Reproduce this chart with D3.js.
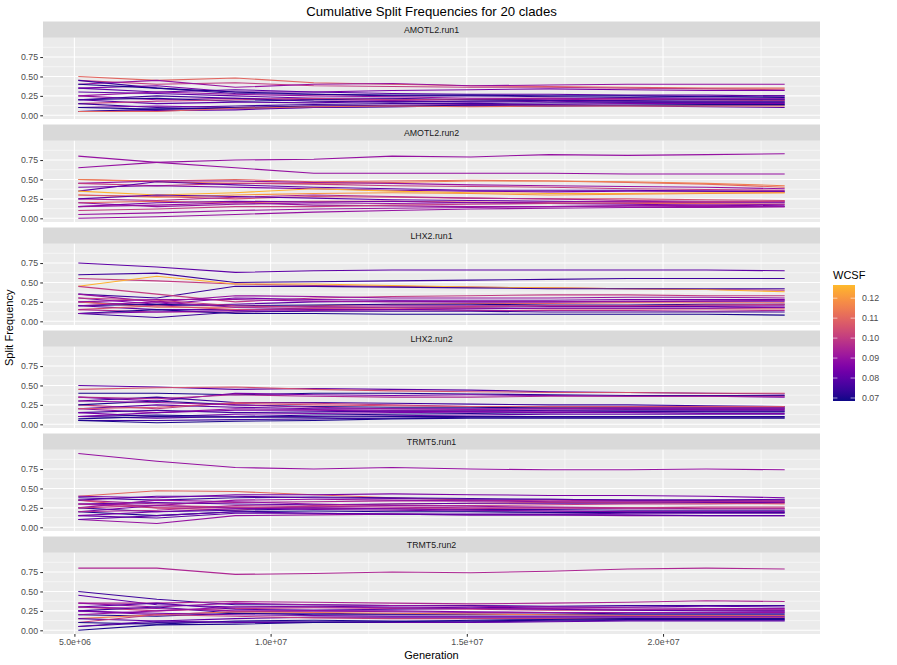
<!DOCTYPE html>
<html><head><meta charset="utf-8">
<script src="https://cdn.jsdelivr.net/npm/d3@7"></script>
<style>body{margin:0;background:#fff;} text{font-family:"Liberation Sans",Arial,sans-serif;}</style>
</head><body>
<svg id="chart" width="897" height="665"></svg>
<script>
const title = "Cumulative Split Frequencies for 20 clades";
const generations = [5100000, 7100000, 9100000, 11100000, 13100000, 15100000, 17100000, 19100000, 21100000, 23100000];
const runs = ["AMOTL2.run1", "AMOTL2.run2", "LHX2.run1", "LHX2.run2", "TRMT5.run1", "TRMT5.run2"];
const xTicks = [5e6, 1e7, 1.5e7, 2e7];
const xTickLabels = ["5.0e+06", "1.0e+07", "1.5e+07", "2.0e+07"];
const yTicks = [0, 0.25, 0.5, 0.75];
const yTickLabels = ["0.00", "0.25", "0.50", "0.75"];
const legendTicks = [0.07, 0.08, 0.09, 0.10, 0.11, 0.12];
const wcsfRange = [0.0685, 0.1266];

const amotl2Run1 = [
 [0.50,0.45,0.48,0.42,0.40,0.38,0.37,0.36,0.35,0.35],
 [0.45,0.40,0.42,0.38,0.37,0.36,0.36,0.35,0.34,0.33],
 [0.40,0.45,0.36,0.40,0.41,0.38,0.39,0.40,0.40,0.40],
 [0.45,0.35,0.28,0.27,0.25,0.25,0.24,0.23,0.24,0.25],
 [0.35,0.38,0.30,0.30,0.32,0.33,0.34,0.33,0.32,0.32],
 [0.30,0.28,0.25,0.22,0.22,0.20,0.21,0.22,0.22,0.22],
 [0.25,0.20,0.22,0.20,0.19,0.20,0.20,0.21,0.20,0.20],
 [0.20,0.22,0.18,0.20,0.21,0.20,0.19,0.18,0.18,0.18],
 [0.20,0.15,0.17,0.16,0.18,0.17,0.18,0.17,0.17,0.17],
 [0.15,0.18,0.20,0.22,0.20,0.21,0.22,0.21,0.20,0.19],
 [0.15,0.10,0.12,0.14,0.15,0.15,0.16,0.16,0.16,0.16],
 [0.10,0.12,0.10,0.12,0.13,0.14,0.14,0.15,0.15,0.15],
 [0.10,0.08,0.09,0.10,0.11,0.12,0.12,0.13,0.13,0.13],
 [0.05,0.08,0.10,0.12,0.12,0.13,0.13,0.13,0.14,0.14],
 [0.05,0.06,0.07,0.10,0.11,0.12,0.12,0.12,0.11,0.10],
 [0.05,0.05,0.09,0.11,0.12,0.11,0.12,0.12,0.12,0.12],
 [0.35,0.30,0.33,0.30,0.28,0.27,0.27,0.26,0.26,0.25],
 [0.40,0.35,0.30,0.27,0.26,0.26,0.25,0.25,0.24,0.23],
 [0.25,0.30,0.27,0.25,0.24,0.22,0.22,0.21,0.21,0.21],
 [0.20,0.25,0.22,0.18,0.17,0.18,0.19,0.19,0.20,0.20]
];
const amotl2Run1Wcsf = [0.11,0.10,0.09,0.075,0.085,0.08,0.09,0.07,0.08,0.10,0.075,0.085,0.07,0.07,0.08,0.11,0.08,0.07,0.09,0.075];

const amotl2Run2 = [
 [0.80,0.72,0.65,0.58,0.58,0.58,0.58,0.57,0.57,0.57],
 [0.65,0.72,0.75,0.76,0.80,0.79,0.82,0.81,0.82,0.83],
 [0.50,0.48,0.50,0.47,0.48,0.49,0.48,0.46,0.44,0.40],
 [0.50,0.47,0.45,0.45,0.46,0.48,0.48,0.47,0.45,0.42],
 [0.45,0.48,0.48,0.46,0.45,0.43,0.42,0.41,0.40,0.38],
 [0.45,0.42,0.45,0.44,0.42,0.41,0.40,0.38,0.37,0.36],
 [0.40,0.42,0.40,0.38,0.36,0.35,0.34,0.35,0.35,0.35],
 [0.35,0.47,0.43,0.40,0.38,0.36,0.36,0.36,0.35,0.34],
 [0.35,0.30,0.33,0.38,0.35,0.33,0.32,0.32,0.33,0.33],
 [0.30,0.27,0.30,0.32,0.33,0.32,0.30,0.31,0.32,0.33],
 [0.30,0.28,0.25,0.28,0.27,0.26,0.25,0.25,0.24,0.23],
 [0.25,0.23,0.27,0.30,0.28,0.26,0.25,0.23,0.22,0.22],
 [0.25,0.30,0.28,0.26,0.24,0.23,0.22,0.21,0.20,0.20],
 [0.20,0.22,0.20,0.22,0.22,0.21,0.20,0.19,0.19,0.18],
 [0.20,0.15,0.18,0.20,0.19,0.20,0.21,0.22,0.21,0.21],
 [0.15,0.20,0.22,0.21,0.22,0.20,0.19,0.18,0.17,0.16],
 [0.15,0.17,0.20,0.17,0.16,0.15,0.15,0.16,0.15,0.15],
 [0.10,0.12,0.15,0.15,0.17,0.18,0.19,0.20,0.21,0.22],
 [0.05,0.07,0.10,0.12,0.13,0.14,0.15,0.16,0.17,0.18],
 [0.00,0.02,0.05,0.08,0.10,0.12,0.13,0.14,0.14,0.15]
];
const amotl2Run2Wcsf = [0.09,0.09,0.11,0.115,0.09,0.10,0.085,0.08,0.125,0.12,0.105,0.095,0.08,0.11,0.09,0.085,0.09,0.10,0.09,0.09];

const lhx2Run1 = [
 [0.75,0.70,0.63,0.65,0.66,0.66,0.66,0.66,0.66,0.65],
 [0.60,0.62,0.50,0.51,0.52,0.53,0.54,0.55,0.55,0.55],
 [0.55,0.52,0.48,0.46,0.45,0.44,0.43,0.42,0.41,0.40],
 [0.45,0.58,0.48,0.48,0.46,0.44,0.43,0.42,0.41,0.38],
 [0.35,0.30,0.45,0.45,0.44,0.43,0.42,0.42,0.42,0.42],
 [0.45,0.35,0.25,0.30,0.32,0.33,0.34,0.34,0.33,0.33],
 [0.35,0.25,0.33,0.32,0.30,0.30,0.30,0.31,0.31,0.30],
 [0.30,0.22,0.30,0.28,0.27,0.27,0.27,0.28,0.28,0.28],
 [0.25,0.20,0.22,0.25,0.26,0.25,0.25,0.25,0.26,0.26],
 [0.25,0.18,0.18,0.20,0.22,0.23,0.23,0.24,0.24,0.24],
 [0.20,0.22,0.20,0.21,0.22,0.22,0.21,0.21,0.22,0.22],
 [0.20,0.25,0.18,0.19,0.20,0.20,0.20,0.20,0.20,0.20],
 [0.20,0.15,0.15,0.17,0.18,0.18,0.19,0.19,0.19,0.18],
 [0.15,0.20,0.15,0.16,0.16,0.17,0.16,0.16,0.16,0.16],
 [0.15,0.12,0.12,0.14,0.15,0.14,0.14,0.14,0.13,0.14],
 [0.10,0.05,0.12,0.13,0.13,0.13,0.12,0.12,0.12,0.12],
 [0.10,0.15,0.10,0.10,0.09,0.09,0.09,0.09,0.09,0.08],
 [0.30,0.27,0.20,0.18,0.18,0.19,0.20,0.20,0.21,0.22],
 [0.25,0.28,0.28,0.26,0.25,0.25,0.25,0.26,0.26,0.27],
 [0.10,0.12,0.14,0.15,0.15,0.16,0.17,0.17,0.17,0.18]
];
const lhx2Run1Wcsf = [0.08,0.075,0.10,0.125,0.075,0.10,0.09,0.085,0.08,0.11,0.07,0.09,0.08,0.105,0.095,0.075,0.07,0.10,0.09,0.085];

const lhx2Run2 = [
 [0.50,0.48,0.45,0.46,0.45,0.44,0.42,0.41,0.40,0.39],
 [0.45,0.47,0.48,0.45,0.43,0.42,0.41,0.41,0.40,0.40],
 [0.40,0.40,0.38,0.40,0.40,0.39,0.38,0.37,0.37,0.37],
 [0.35,0.30,0.40,0.38,0.37,0.38,0.37,0.36,0.36,0.35],
 [0.30,0.35,0.28,0.28,0.27,0.26,0.25,0.25,0.24,0.23],
 [0.25,0.20,0.28,0.27,0.25,0.23,0.22,0.22,0.22,0.22],
 [0.25,0.30,0.25,0.23,0.22,0.22,0.21,0.21,0.21,0.21],
 [0.20,0.25,0.22,0.20,0.20,0.20,0.20,0.20,0.20,0.20],
 [0.20,0.15,0.20,0.19,0.18,0.18,0.18,0.19,0.19,0.19],
 [0.15,0.18,0.15,0.16,0.17,0.17,0.18,0.18,0.18,0.18],
 [0.15,0.10,0.13,0.14,0.15,0.16,0.16,0.16,0.17,0.17],
 [0.10,0.12,0.10,0.12,0.13,0.14,0.15,0.16,0.16,0.16],
 [0.10,0.08,0.10,0.10,0.11,0.12,0.13,0.13,0.13,0.13],
 [0.07,0.10,0.09,0.09,0.10,0.10,0.10,0.10,0.10,0.10],
 [0.05,0.05,0.06,0.07,0.08,0.09,0.09,0.09,0.09,0.09],
 [0.05,0.02,0.04,0.05,0.07,0.08,0.08,0.08,0.08,0.08],
 [0.20,0.22,0.27,0.25,0.24,0.23,0.23,0.23,0.23,0.23],
 [0.30,0.28,0.25,0.22,0.20,0.19,0.20,0.21,0.21,0.21],
 [0.35,0.33,0.38,0.36,0.35,0.35,0.36,0.36,0.36,0.36],
 [0.10,0.15,0.18,0.18,0.17,0.16,0.15,0.15,0.14,0.14]
];
const lhx2Run2Wcsf = [0.08,0.105,0.07,0.085,0.075,0.10,0.07,0.08,0.09,0.075,0.085,0.07,0.08,0.07,0.075,0.07,0.105,0.09,0.095,0.085];

const trmt5Run1 = [
 [0.95,0.85,0.77,0.75,0.77,0.75,0.74,0.74,0.75,0.74],
 [0.40,0.47,0.46,0.42,0.38,0.35,0.33,0.32,0.31,0.30],
 [0.40,0.38,0.42,0.42,0.43,0.42,0.41,0.41,0.40,0.38],
 [0.38,0.35,0.38,0.39,0.38,0.37,0.36,0.35,0.35,0.35],
 [0.35,0.30,0.32,0.33,0.34,0.34,0.35,0.34,0.34,0.34],
 [0.35,0.25,0.22,0.28,0.30,0.31,0.32,0.32,0.33,0.33],
 [0.30,0.32,0.30,0.29,0.30,0.31,0.31,0.31,0.32,0.32],
 [0.30,0.25,0.25,0.27,0.28,0.28,0.29,0.30,0.30,0.31],
 [0.25,0.35,0.33,0.30,0.28,0.27,0.26,0.25,0.24,0.24],
 [0.25,0.20,0.22,0.24,0.24,0.23,0.23,0.22,0.22,0.22],
 [0.20,0.28,0.25,0.23,0.22,0.21,0.21,0.20,0.20,0.20],
 [0.20,0.15,0.20,0.21,0.20,0.20,0.19,0.19,0.19,0.19],
 [0.15,0.12,0.18,0.18,0.17,0.17,0.17,0.18,0.18,0.18],
 [0.10,0.05,0.15,0.16,0.17,0.16,0.16,0.15,0.15,0.15],
 [0.10,0.15,0.20,0.18,0.17,0.16,0.16,0.16,0.15,0.15],
 [0.25,0.28,0.26,0.25,0.24,0.24,0.25,0.25,0.26,0.26],
 [0.30,0.28,0.35,0.36,0.35,0.34,0.33,0.33,0.33,0.33],
 [0.20,0.22,0.28,0.27,0.26,0.25,0.25,0.24,0.24,0.24],
 [0.35,0.40,0.40,0.38,0.37,0.36,0.36,0.35,0.35,0.36],
 [0.15,0.20,0.24,0.25,0.24,0.22,0.21,0.20,0.20,0.20]
];
const trmt5Run1Wcsf = [0.09,0.11,0.085,0.075,0.095,0.105,0.08,0.10,0.09,0.075,0.085,0.07,0.08,0.09,0.08,0.10,0.09,0.095,0.08,0.085];

const trmt5Run2 = [
 [0.80,0.80,0.72,0.73,0.75,0.74,0.76,0.79,0.80,0.79],
 [0.50,0.40,0.33,0.33,0.32,0.32,0.31,0.32,0.32,0.32],
 [0.45,0.33,0.30,0.31,0.30,0.29,0.30,0.30,0.31,0.30],
 [0.35,0.35,0.37,0.36,0.35,0.34,0.35,0.36,0.38,0.37],
 [0.35,0.30,0.35,0.33,0.32,0.31,0.30,0.29,0.28,0.28],
 [0.30,0.25,0.28,0.29,0.28,0.27,0.26,0.26,0.26,0.26],
 [0.30,0.35,0.27,0.26,0.27,0.28,0.27,0.26,0.25,0.25],
 [0.25,0.20,0.24,0.25,0.25,0.24,0.23,0.23,0.23,0.24],
 [0.25,0.30,0.22,0.22,0.21,0.21,0.21,0.22,0.22,0.22],
 [0.20,0.18,0.22,0.20,0.20,0.20,0.20,0.20,0.20,0.20],
 [0.15,0.20,0.24,0.23,0.22,0.21,0.20,0.19,0.19,0.19],
 [0.15,0.12,0.15,0.17,0.17,0.17,0.17,0.17,0.17,0.17],
 [0.10,0.20,0.18,0.16,0.15,0.15,0.15,0.15,0.16,0.16],
 [0.10,0.08,0.12,0.13,0.12,0.12,0.13,0.14,0.14,0.14],
 [0.05,0.10,0.11,0.11,0.11,0.11,0.12,0.13,0.13,0.13],
 [0.05,0.12,0.10,0.10,0.10,0.10,0.11,0.12,0.12,0.12],
 [0.00,0.07,0.08,0.10,0.11,0.13,0.14,0.15,0.15,0.15],
 [0.20,0.25,0.30,0.30,0.29,0.28,0.28,0.27,0.27,0.27],
 [0.25,0.22,0.20,0.19,0.18,0.18,0.18,0.18,0.18,0.18],
 [0.30,0.28,0.25,0.25,0.24,0.23,0.23,0.23,0.23,0.23]
];
const trmt5Run2Wcsf = [0.095,0.075,0.08,0.095,0.09,0.10,0.08,0.085,0.075,0.07,0.115,0.08,0.10,0.07,0.075,0.08,0.07,0.09,0.085,0.09];

const runValues = [amotl2Run1, amotl2Run2, lhx2Run1, lhx2Run2, trmt5Run1, trmt5Run2];
const runWcsf = [amotl2Run1Wcsf, amotl2Run2Wcsf, lhx2Run1Wcsf, lhx2Run2Wcsf, trmt5Run1Wcsf, trmt5Run2Wcsf];

// ---------- layout ----------
const svg = d3.select("#chart");
const left = 43, right = 820, top0 = 21.5;
const stripH = 16.3, panelH = 81.2, gap = 5.5;

const xExt = d3.extent(generations), xPad = (xExt[1]-xExt[0])*0.05;
const x = d3.scaleLinear().domain([xExt[0]-xPad, xExt[1]+xPad]).range([left, right]);
const allVals = runValues.flat(2);
const yExt = [d3.min(allVals), d3.max(allVals)], yPad = (yExt[1]-yExt[0])*0.05;
const yDomain = [yExt[0]-yPad, yExt[1]+yPad];

const tMax = 0.85;
const colorT = d3.scaleLinear().domain(wcsfRange).range([0, tMax]).clamp(true);
const color = v => d3.interpolatePlasma(colorT(v));

const xMinor = xTicks.map(d => d + 2.5e6);
const yMinor = [0.125, 0.375, 0.625, 0.875];

runs.forEach((run, i) => {
  const sTop = top0 + i*(stripH+panelH+gap);
  const pTop = sTop + stripH, pBot = pTop + panelH;
  const y = d3.scaleLinear().domain(yDomain).range([pBot, pTop]);
  const g = svg.append("g");
  g.append("rect").attr("x", left).attr("y", sTop).attr("width", right-left).attr("height", stripH).attr("fill", "#D9D9D9");
  g.append("text").attr("x", (left+right)/2).attr("y", sTop + stripH/2 + 3.1).attr("text-anchor", "middle")
    .attr("font-size", "8.8px").attr("fill", "#1A1A1A").text(run);
  g.append("rect").attr("x", left).attr("y", pTop).attr("width", right-left).attr("height", panelH).attr("fill", "#EBEBEB");
  g.selectAll(".ym").data(yMinor).join("line").attr("x1", left).attr("x2", right)
    .attr("y1", d => y(d)).attr("y2", d => y(d)).attr("stroke", "#fff").attr("stroke-width", 0.53);
  g.selectAll(".xm").data(xMinor.filter(d => x(d) < right)).join("line").attr("y1", pTop).attr("y2", pBot)
    .attr("x1", d => x(d)).attr("x2", d => x(d)).attr("stroke", "#fff").attr("stroke-width", 0.53);
  g.selectAll(".yM").data(yTicks).join("line").attr("x1", left).attr("x2", right)
    .attr("y1", d => y(d)).attr("y2", d => y(d)).attr("stroke", "#fff").attr("stroke-width", 1.07);
  g.selectAll(".xM").data(xTicks).join("line").attr("y1", pTop).attr("y2", pBot)
    .attr("x1", d => x(d)).attr("x2", d => x(d)).attr("stroke", "#fff").attr("stroke-width", 1.07);
  const yAxis = d3.axisLeft(y).tickValues(yTicks).tickFormat((d, k) => yTickLabels[k]).tickSize(2.75).tickPadding(2.2);
  const ya = g.append("g").attr("transform", `translate(${left},0)`).call(yAxis);
  ya.select(".domain").remove();
  ya.selectAll("line").attr("stroke", "#333333").attr("stroke-width", 1.07);
  ya.selectAll("text").attr("font-size", "8.8px").attr("fill", "#4D4D4D").attr("font-family", "Liberation Sans, Arial, sans-serif");
  const line = d3.line().x((d, k) => x(generations[k])).y(d => y(d));
  const series = runValues[i].map((vals, k) => ({vals, w: runWcsf[i][k]}));
  g.selectAll(".ser").data(series).join("path")
    .attr("d", d => line(d.vals)).attr("fill", "none")
    .attr("stroke", d => color(d.w)).attr("stroke-width", 1.07).attr("stroke-linejoin", "round");
  if (i === runs.length - 1) {
    const xAxis = d3.axisBottom(x).tickValues(xTicks).tickFormat((d, k) => xTickLabels[k]).tickSize(2.75).tickPadding(2.2);
    const xa = g.append("g").attr("transform", `translate(0,${pBot})`).call(xAxis);
    xa.select(".domain").remove();
    xa.selectAll("line").attr("stroke", "#333333").attr("stroke-width", 1.07);
    xa.selectAll("text").attr("font-size", "8.8px").attr("fill", "#4D4D4D").attr("font-family", "Liberation Sans, Arial, sans-serif");
  }
});

svg.append("text").attr("x", (left+right)/2).attr("y", 15.5).attr("text-anchor", "middle")
  .attr("font-size", "13.2px").attr("fill", "#000").text(title);
svg.append("text").attr("x", (left+right)/2).attr("y", 659).attr("text-anchor", "middle")
  .attr("font-size", "11px").attr("fill", "#000").text("Generation");
svg.append("text").attr("transform", `translate(13,${(top0+634)/2}) rotate(-90)`).attr("text-anchor", "middle")
  .attr("font-size", "11px").attr("fill", "#000").text("Split Frequency");

const lgX = 833, lgW = 22, lgTop = 285, lgBot = 401;
const defs = svg.append("defs");
const grad = defs.append("linearGradient").attr("id", "wcsfGrad").attr("x1", 0).attr("y1", 1).attr("x2", 0).attr("y2", 0);
d3.range(0, 1.0001, 0.05).forEach(t => {
  grad.append("stop").attr("offset", t).attr("stop-color", d3.interpolatePlasma(t*tMax));
});
svg.append("text").attr("x", lgX).attr("y", 279).attr("font-size", "11px").attr("fill", "#000").text("WCSF");
svg.append("rect").attr("x", lgX).attr("y", lgTop).attr("width", lgW).attr("height", lgBot-lgTop).attr("fill", "url(#wcsfGrad)");
const ly = d3.scaleLinear().domain(wcsfRange).range([lgBot, lgTop]);
const lg = svg.append("g");
legendTicks.forEach(v => {
  lg.append("line").attr("x1", lgX).attr("x2", lgX+4.4).attr("y1", ly(v)).attr("y2", ly(v)).attr("stroke", "#fff").attr("stroke-width", 0.6);
  lg.append("line").attr("x1", lgX+lgW-4.4).attr("x2", lgX+lgW).attr("y1", ly(v)).attr("y2", ly(v)).attr("stroke", "#fff").attr("stroke-width", 0.6);
  lg.append("text").attr("x", lgX+lgW+7).attr("y", ly(v)+3.1).attr("font-size", "8.8px").attr("fill", "#4D4D4D").text(v.toFixed(2));
});
</script>
</body></html>
